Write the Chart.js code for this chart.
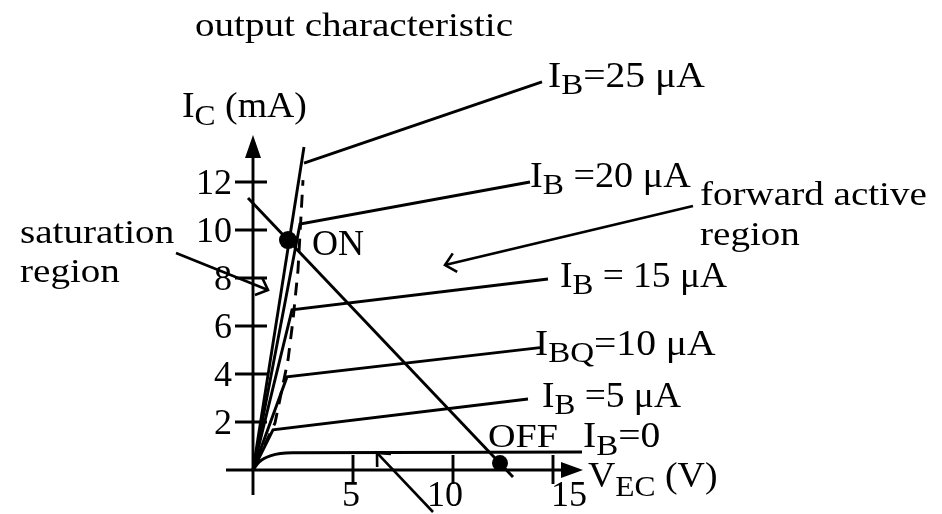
<!DOCTYPE html>
<html>
<head>
<meta charset="utf-8">
<script src="https://cdn.jsdelivr.net/npm/chart.js@4.4.1/dist/chart.umd.min.js"></script>
<style>
  html, body { margin: 0; padding: 0; background: #fff; }
  #wrap { width: 942px; height: 514px; position: relative; }
  #fontWarm { position: absolute; left: -9999px; top: 0; font-family: "Liberation Serif"; font-size: 36px; }
</style>
</head>
<body>
<div id="wrap"><canvas id="outChart"></canvas></div>
<span id="fontWarm">output 0123456789 IBCQ &#956;A</span>
<script>
// output curves of the transistor: I_C (mA) against V_EC (V)
const ibValues = [5, 10, 15, 20, 25];               // base current per curve, uA
const kneeV = [1.0, 1.7, 1.95, 2.35, 2.55];
const kneeI = [1.67, 3.88, 6.67, 10.25, 12.79];
const endV = [13.75, 14.35, 14.75, 13.85, 14.45];
const endI = [2.96, 5.1, 7.96, 12.0, 16.17];
const riseTopV = 2.55, riseTopI = 13.46;             // the 25 uA rise goes past its knee
const cutoffV = [0, 0.3, 0.9, 1.95, 16.45];          // I_B = 0
const cutoffI = [0, 0.33, 0.6, 0.72, 0.75];
const edgeV = [0.1, 1.1, 1.75, 2.0, 2.25, 2.5];      // dashed saturation edge
const edgeI = [0.2, 1.96, 4.58, 6.25, 8.33, 12.08];
const loadV = [-0.25, 13.0];
const loadI = [11.33, -0.29];
const qV = [1.75, 12.35];                            // ON, OFF
const qI = [9.58, 0.29];
const satArrowV = [-3.85, 0.75], satArrowI = [9.04, 7.5];
const fwdArrowV = [22.0, 9.6], fwdArrowI = [11.0, 8.54];
const lowArrowV = [9.0, 6.2], lowArrowI = [-1.75, 0.71];
const xTicks = [5, 10, 15];
const yTicks = [2, 4, 6, 8, 10, 12];

const FONT = '"Liberation Serif", serif';
const INK = '#000';
const LW = 2.9;

const pts = (xs, ys) => xs.map((x, k) => ({ x: x, y: ys[k] }));

function lineSet(data, extra) {
  return Object.assign({
    data: data,
    borderColor: INK,
    borderWidth: LW,
    pointRadius: 0,
    tension: 0,
    fill: false
  }, extra || {});
}

const datasets = [];
ibValues.forEach((ib, k) => {
  if (ib === 25) {
    datasets.push(lineSet([{ x: 0, y: 0 }, { x: riseTopV, y: riseTopI }]));
    datasets.push(lineSet([{ x: kneeV[k], y: kneeI[k] }, { x: endV[k], y: endI[k] }]));
  } else {
    datasets.push(lineSet([{ x: 0, y: 0 }, { x: kneeV[k], y: kneeI[k] }, { x: endV[k], y: endI[k] }]));
  }
});
datasets.push(lineSet(pts(cutoffV, cutoffI), { cubicInterpolationMode: 'monotone' }));
datasets.push(lineSet(pts(edgeV, edgeI), { borderDash: [13, 9] }));
datasets.push(lineSet(pts(loadV, loadI)));
datasets.push(lineSet(pts(satArrowV, satArrowI), { arrow: true, borderWidth: 2.6 }));
datasets.push(lineSet(pts(fwdArrowV, fwdArrowI), { arrow: true, borderWidth: 2.6 }));
datasets.push(lineSet(pts(lowArrowV, lowArrowI), { arrow: true, borderWidth: 2.6 }));
datasets.push({
  data: pts(qV, qI),
  showLine: false,
  pointRadius: [9, 8],
  pointBackgroundColor: INK,
  pointBorderColor: INK,
  pointBorderWidth: 0
});

// text: anchor in axis units, horizontal stretch, then parts drawn left to right
const notes = [
  { v: -2.9, i: 18.1, sx: 1.15, parts: [['output characteristic', 34]] },
  { v: -3.55, i: 14.71, sx: 1.05, parts: [['I', 36], ['C', 30, 8], [' (mA)', 36]] },
  { v: 14.75, i: 15.96, sx: 1.1, parts: [['I', 36], ['B', 30, 7], ['=25 \u03bcA', 36]] },
  { v: 13.85, i: 11.79, sx: 1.06, parts: [['I', 36], ['B', 30, 7], [' =20 \u03bcA', 36]] },
  { v: 22.35, i: 11.04, sx: 1.15, parts: [['forward active', 34]] },
  { v: 22.35, i: 9.375, sx: 1.15, parts: [['region', 34]] },
  { v: -11.65, i: 9.46, sx: 1.15, parts: [['saturation', 34]] },
  { v: -11.65, i: 7.83, sx: 1.15, parts: [['region', 34]] },
  { v: 15.35, i: 7.625, sx: 1.04, parts: [['I', 36], ['B', 30, 7], [' = 15 \u03bcA', 36]] },
  { v: 14.1, i: 4.79, sx: 1.1, parts: [['I', 36], ['BQ', 30, 7], ['=10 \u03bcA', 36]] },
  { v: 14.45, i: 2.625, sx: 1.04, parts: [['I', 36], ['B', 30, 7], [' =5 \u03bcA', 36]] },
  { v: 11.75, i: 0.96, sx: 1.12, parts: [['OFF', 34]] },
  { v: 16.5, i: 0.96, sx: 1.1, parts: [['I', 36], ['B', 30, 8], ['=0', 36]] },
  { v: 2.95, i: 8.96, sx: 1.0, parts: [['ON', 36]] },
  { v: 16.75, i: -0.71, sx: 1.05, parts: [['V', 36], ['EC', 30, 9], [' (V)', 36]] }
];

function drawParts(ctx, x, y, sx, parts) {
  ctx.save();
  ctx.translate(x, y);
  ctx.scale(sx, 1);
  let cx = 0;
  parts.forEach(p => {
    ctx.font = p[1] + 'px ' + FONT;
    ctx.fillText(p[0], cx, p[2] || 0);
    cx += ctx.measureText(p[0]).width;
  });
  ctx.restore();
}

const diagramPlugin = {
  id: 'diagram',
  beforeDatasetsDraw(chart) {
    const ctx = chart.ctx;
    const xs = chart.scales.x, ys = chart.scales.y;
    const x0 = xs.getPixelForValue(0), y0 = ys.getPixelForValue(0);
    ctx.save();
    ctx.strokeStyle = INK;
    ctx.fillStyle = INK;
    ctx.lineWidth = LW;

    // axes with filled arrow tips
    const yTop = ys.getPixelForValue(13.96), xEnd = xs.getPixelForValue(16.5);
    ctx.beginPath();
    ctx.moveTo(x0, ys.getPixelForValue(-1.04));
    ctx.lineTo(x0, yTop + 20);
    ctx.moveTo(xs.getPixelForValue(-1.35), y0);
    ctx.lineTo(xEnd - 20, y0);
    ctx.stroke();
    ctx.beginPath();
    ctx.moveTo(x0, yTop);
    ctx.lineTo(x0 - 8, yTop + 23);
    ctx.lineTo(x0 + 8, yTop + 23);
    ctx.closePath();
    ctx.fill();
    ctx.beginPath();
    ctx.moveTo(xEnd, y0);
    ctx.lineTo(xEnd - 22, y0 - 8);
    ctx.lineTo(xEnd - 22, y0 + 8);
    ctx.closePath();
    ctx.fill();

    // tick marks and numbers
    ctx.beginPath();
    yTicks.forEach(t => {
      const py = ys.getPixelForValue(t);
      ctx.moveTo(x0 - 18, py);
      ctx.lineTo(x0 + 14, py);
    });
    xTicks.forEach(t => {
      const px = xs.getPixelForValue(t);
      ctx.moveTo(px, y0 - 15);
      ctx.lineTo(px, y0 + 14);
    });
    ctx.stroke();

    ctx.font = '36px ' + FONT;
    ctx.textAlign = 'right';
    yTicks.forEach(t => {
      ctx.fillText(String(t), x0 - 21, ys.getPixelForValue(t) + 12);
    });
    ctx.textAlign = 'center';
    const nudge = [-2, -8, 16];
    xTicks.forEach((t, k) => {
      ctx.fillText(String(t), xs.getPixelForValue(t) + nudge[k], y0 + 36);
    });
    ctx.restore();
  },
  afterDatasetsDraw(chart) {
    const ctx = chart.ctx;
    const xs = chart.scales.x, ys = chart.scales.y;
    ctx.save();
    ctx.strokeStyle = INK;
    ctx.fillStyle = INK;
    ctx.lineWidth = 2.6;

    // open arrow heads on the pointer lines
    chart.data.datasets.forEach(ds => {
      if (!ds.arrow) return;
      const a = ds.data[ds.data.length - 2], b = ds.data[ds.data.length - 1];
      const ax = xs.getPixelForValue(a.x), ay = ys.getPixelForValue(a.y);
      const bx = xs.getPixelForValue(b.x), by = ys.getPixelForValue(b.y);
      const ang = Math.atan2(ay - by, ax - bx);
      const len = 14, spread = Math.PI / 4.2;
      ctx.beginPath();
      ctx.moveTo(bx + len * Math.cos(ang - spread), by + len * Math.sin(ang - spread));
      ctx.lineTo(bx, by);
      ctx.lineTo(bx + len * Math.cos(ang + spread), by + len * Math.sin(ang + spread));
      ctx.stroke();
    });

    ctx.textAlign = 'left';
    ctx.textBaseline = 'alphabetic';
    notes.forEach(n => {
      drawParts(ctx, xs.getPixelForValue(n.v), ys.getPixelForValue(n.i), n.sx, n.parts);
    });
    ctx.restore();
  }
};

function build() {
  new Chart(document.getElementById('outChart'), {
    type: 'line',
    data: { datasets: datasets },
    options: {
      responsive: true,
      maintainAspectRatio: false,
      animation: false,
      layout: { padding: 0, autoPadding: false },
      plugins: { legend: { display: false }, tooltip: { enabled: false } },
      scales: {
        x: { type: 'linear', min: -12.65, max: 34.45, display: false },
        y: { type: 'linear', min: -1.833, max: 19.583, display: false }
      }
    },
    plugins: [diagramPlugin]
  });
}

// wait for the serif face before painting text on the canvas
document.fonts.load('36px "Liberation Serif"', 'output 12 \u03bcA')
  .then(build, build);
</script>
</body>
</html>
